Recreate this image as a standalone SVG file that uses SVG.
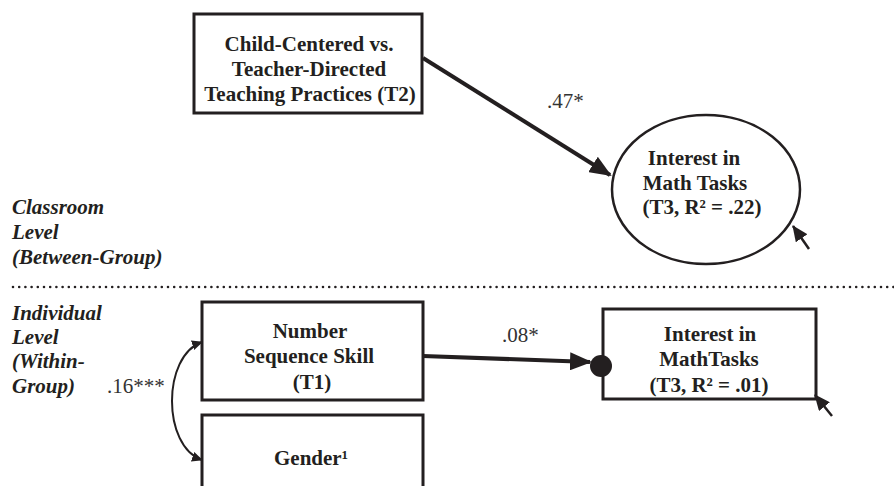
<svg xmlns="http://www.w3.org/2000/svg" width="894" height="486" viewBox="0 0 894 486">
  <style>
    .box { fill: #fff; stroke: #231f20; stroke-width: 3; }
    .ell { fill: #fff; stroke: #231f20; stroke-width: 2.5; }
    .t { font-family: "Liberation Serif", "Times New Roman", serif; font-size: 21px; font-weight: bold; fill: #231f20; text-anchor: middle; }
    .lvl { font-family: "Liberation Serif", "Times New Roman", serif; font-size: 21px; font-weight: bold; font-style: italic; fill: #231f20; }
    .coef { font-family: "Liberation Serif", "Times New Roman", serif; font-size: 21px; fill: #333; }
    .path { fill: none; stroke: #231f20; stroke-width: 4; }
    .thin { fill: none; stroke: #231f20; stroke-width: 2.5; }
    .curve { fill: none; stroke: #231f20; stroke-width: 2; }
  </style>
  <defs>
    <marker id="bigArrow" markerUnits="userSpaceOnUse" markerWidth="22" markerHeight="18" viewBox="0 0 22 18" refX="20" refY="9" orient="auto">
      <path d="M0,0 L22,9 L0,18 Z" fill="#231f20"/>
    </marker>
    <marker id="smallArrow" markerUnits="userSpaceOnUse" markerWidth="16" markerHeight="14" viewBox="0 0 16 14" refX="15" refY="7" orient="auto-start-reverse">
      <path d="M0,0 L16,7 L0,14 Z" fill="#231f20"/>
    </marker>
    <marker id="tinyArrow" markerUnits="userSpaceOnUse" markerWidth="11" markerHeight="10" viewBox="0 0 11 10" refX="10" refY="5" orient="auto-start-reverse">
      <path d="M0,0 L11,5 L0,10 Z" fill="#231f20"/>
    </marker>
  </defs>

  <!-- level labels -->
  <g id="label-classroom">
    <text class="lvl" x="12" y="214">Classroom</text>
    <text class="lvl" x="12" y="239">Level</text>
    <text class="lvl" x="12" y="264">(Between-Group)</text>
  </g>
  <g id="label-individual">
    <text class="lvl" x="12" y="320">Individual</text>
    <text class="lvl" x="12" y="344">Level</text>
    <text class="lvl" x="12" y="368">(Within-</text>
    <text class="lvl" x="12" y="393">Group)</text>
  </g>
  <line id="level-divider" x1="13" y1="287" x2="894" y2="287" stroke="#231f20" stroke-width="2.6" stroke-linecap="round" stroke-dasharray="0 6.2"/>

  <!-- nodes -->
  <g id="teaching-practices">
    <rect class="box" x="194" y="14" width="228" height="99"/>
    <text class="t" x="309" y="51">Child-Centered vs.</text>
    <text class="t" x="309" y="76">Teacher-Directed</text>
    <text class="t" x="310" y="101">Teaching Practices (T2)</text>
  </g>
  <g id="interest-between">
    <ellipse class="ell" cx="706" cy="189.5" rx="94" ry="74.5"/>
    <text class="t" x="694" y="165">Interest in</text>
    <text class="t" x="695" y="190">Math Tasks</text>
    <text class="t" x="702" y="214">(T3, R² = .22)</text>
  </g>
  <g id="number-sequence">
    <rect class="box" x="202" y="302" width="221" height="98"/>
    <text class="t" x="310" y="338">Number</text>
    <text class="t" x="309" y="363">Sequence Skill</text>
    <text class="t" x="312" y="389">(T1)</text>
  </g>
  <g id="gender">
    <rect class="box" x="202" y="415" width="221" height="90"/>
    <text class="t" x="311" y="465">Gender¹</text>
  </g>
  <g id="interest-within">
    <rect class="box" x="603" y="309" width="213" height="90"/>
    <text class="t" x="710" y="341">Interest in</text>
    <text class="t" x="709" y="366">MathTasks</text>
    <text class="t" x="709" y="392">(T3, R² = .01)</text>
  </g>

  <!-- connectors -->
  <g id="connectors">
    <line class="path" x1="423" y1="58" x2="610" y2="175" marker-end="url(#bigArrow)"/>
    <line class="path" x1="423" y1="356" x2="590" y2="362" marker-end="url(#bigArrow)"/>
    <circle cx="601" cy="366" r="11" fill="#231f20"/>
    <path class="curve" d="M202,342 C162,356 162,446 202,460" marker-start="url(#tinyArrow)" marker-end="url(#tinyArrow)"/>
    <line class="thin" x1="809" y1="249" x2="793" y2="226" marker-end="url(#smallArrow)"/>
    <line class="thin" x1="832" y1="416" x2="815" y2="395" marker-end="url(#smallArrow)"/>
  </g>

  <!-- coefficients -->
  <g id="coefficients">
    <text class="coef" x="547" y="108">.47*</text>
    <text class="coef" x="502" y="342">.08*</text>
    <text class="coef" x="107" y="393">.16***</text>
  </g>
</svg>
